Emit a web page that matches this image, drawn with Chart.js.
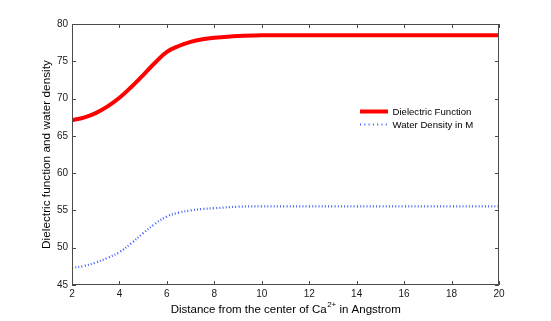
<!DOCTYPE html>
<html>
<head>
<meta charset="utf-8">
<script src="https://cdn.jsdelivr.net/npm/chart.js@4.4.1/dist/chart.umd.min.js"></script>
<style>
  html, body { margin: 0; padding: 0; background: #fff; }
  #wrap { width: 551px; height: 321px; }
</style>
</head>
<body>
<div id="wrap"><canvas id="chart" width="551" height="321"></canvas></div>
<script>
// distance from the ion (Angstrom)
const distance = [2, 2.5, 3, 3.5, 4, 4.5, 5, 5.5, 6, 6.5, 7, 7.5, 8, 9, 10, 11, 12, 13, 14, 15, 16, 17, 18, 19, 20];
const dielectric = [67.1, 67.45, 68.05, 68.95, 70.1, 71.55, 73.15, 74.8, 76.25, 77.05, 77.6, 77.95, 78.15, 78.4, 78.5, 78.5, 78.5, 78.5, 78.5, 78.5, 78.5, 78.5, 78.5, 78.5, 78.5];
const density = [47.3, 47.55, 48.0, 48.65, 49.4, 50.6, 51.95, 53.2, 54.2, 54.7, 55.0, 55.2, 55.3, 55.5, 55.55, 55.55, 55.55, 55.55, 55.55, 55.55, 55.55, 55.55, 55.55, 55.55, 55.55];
const seriesNames = ['Dielectric Function', 'Water Density in M'];
const xTicks = [2, 4, 6, 8, 10, 12, 14, 16, 18, 20];
const yTicks = [45, 50, 55, 60, 65, 70, 75, 80];

const FONT = '"Liberation Sans", Arial, Helvetica, sans-serif';
const AXIS = '#4a4a4a';

const toPoints = (ys) => distance.map((d, i) => ({ x: d, y: ys[i] }));

// box, inward ticks, legend and the x title with superscript
const framePlugin = {
    id: 'frame',
    afterDraw(chart) {
        const ctx = chart.ctx;
        const { left, right, top, bottom } = chart.chartArea;
        const xs = chart.scales.x, ys = chart.scales.y;
        const tick = 4;
        ctx.save();
        ctx.strokeStyle = AXIS;
        ctx.lineWidth = 1;
        ctx.beginPath();
        ctx.rect(left + 0.5, top + 0.5, right - left - 1, bottom - top - 1);
        for (const v of xTicks) {
            const px = Math.round(xs.getPixelForValue(v)) + 0.5;
            ctx.moveTo(px, bottom); ctx.lineTo(px, bottom - tick);
            ctx.moveTo(px, top); ctx.lineTo(px, top + tick);
        }
        for (const v of yTicks) {
            const py = Math.round(ys.getPixelForValue(v)) + 0.5;
            ctx.moveTo(left, py); ctx.lineTo(left + tick, py);
            ctx.moveTo(right, py); ctx.lineTo(right - tick, py);
        }
        ctx.stroke();

        // legend
        const ds = chart.data.datasets;
        const lx = 360, ly = [111.5, 124.5];
        ctx.font = '9.6px ' + FONT;
        ctx.textBaseline = 'middle';
        ctx.fillStyle = '#000';
        ds.forEach((d, i) => {
            ctx.beginPath();
            ctx.strokeStyle = d.borderColor;
            ctx.lineWidth = d.borderWidth;
            ctx.setLineDash(i === 1 ? [1, 3.3] : []);
            ctx.moveTo(lx, ly[i]);
            ctx.lineTo(lx + 28, ly[i]);
            ctx.stroke();
            ctx.setLineDash([]);
            ctx.fillText(seriesNames[i], lx + 32.5, ly[i] + 0.5);
        });

        // x axis title
        const a = 'Distance from the center of Ca', sup = '2+', b = ' in Angstrom';
        ctx.textBaseline = 'alphabetic';
        ctx.font = '11.5px ' + FONT;
        const wa = ctx.measureText(a).width, wb = ctx.measureText(b).width;
        ctx.font = '8px ' + FONT;
        const ws = ctx.measureText(sup).width;
        const x0 = (left + right) / 2 - (wa + ws + wb) / 2;
        const base = 313;
        ctx.font = '11.5px ' + FONT;
        ctx.fillText(a, x0, base);
        ctx.font = '8px ' + FONT;
        ctx.fillText(sup, x0 + wa + 0.5, base - 6);
        ctx.font = '11.5px ' + FONT;
        ctx.fillText(b, x0 + wa + ws + 0.5, base);
        ctx.restore();
    }
};

new Chart(document.getElementById('chart'), {
    type: 'line',
    data: {
        datasets: [{
            label: seriesNames[0],
            data: toPoints(dielectric),
            borderColor: '#ff0000',
            borderWidth: 4,
            pointRadius: 0,
            tension: 0.4,
            fill: false
        }, {
            label: seriesNames[1],
            data: toPoints(density),
            borderColor: '#3f5cff',
            borderWidth: 2.2,
            borderDash: [1, 2.2],
            pointRadius: 0,
            tension: 0.4,
            fill: false
        }]
    },
    options: {
        responsive: false,
        animation: false,
        layout: { padding: { left: 0, top: 24, right: 52, bottom: 0 } },
        plugins: { legend: { display: false }, tooltip: { enabled: false } },
        scales: {
            x: {
                type: 'linear',
                min: 2, max: 20,
                afterFit: (s) => { s.height = 36; },
                afterBuildTicks: (s) => { s.ticks = xTicks.map(v => ({ value: v })); },
                grid: { display: false, drawTicks: false },
                border: { display: false },
                ticks: { autoSkip: false, maxRotation: 0, padding: 3, color: '#1a1a1a', font: { family: FONT, size: 10 } }
            },
            y: {
                min: 45, max: 80,
                afterFit: (s) => { s.width = 72; },
                afterBuildTicks: (s) => { s.ticks = yTicks.map(v => ({ value: v })); },
                grid: { display: false, drawTicks: false },
                border: { display: false },
                title: {
                    display: true,
                    text: 'Dielectric function and water density',
                    color: '#000',
                    font: { family: FONT, size: 11.8 },
                    padding: { top: 40, bottom: 0 }
                },
                ticks: { autoSkip: false, padding: 4, color: '#1a1a1a', font: { family: FONT, size: 10 } }
            }
        }
    },
    plugins: [framePlugin]
});
</script>
</body>
</html>
